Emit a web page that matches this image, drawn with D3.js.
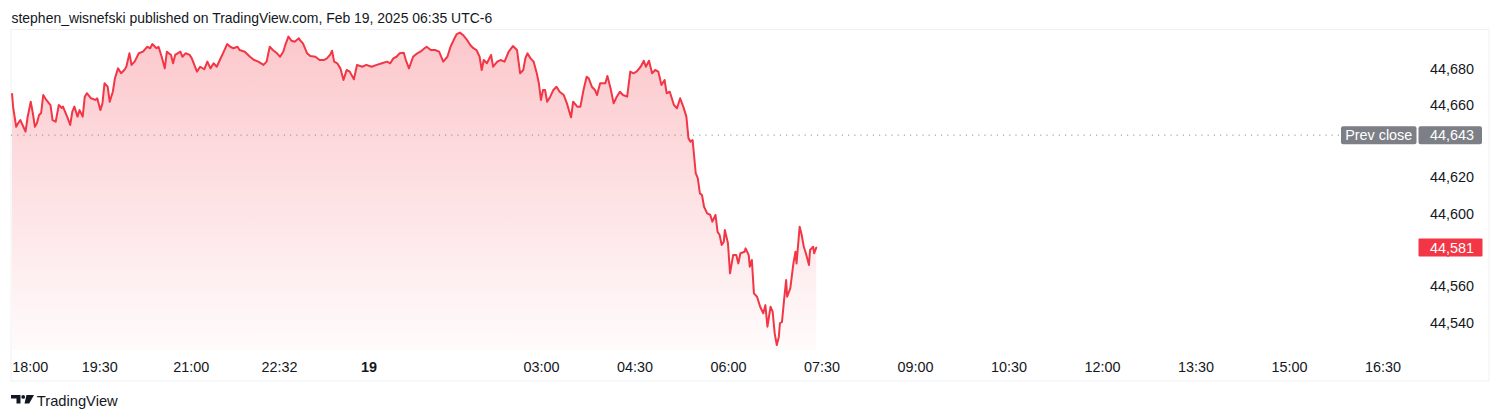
<!DOCTYPE html>
<html>
<head>
<meta charset="utf-8">
<script src="https://cdn.jsdelivr.net/npm/d3@7/dist/d3.min.js"></script>
<style>
  html, body { margin: 0; padding: 0; background: #ffffff; }
  svg { display: block; }
</style>
</head>
<body>
<svg id="chart" width="1500" height="420"></svg>
<script>
// ---------------- DATA ----------------
const headerText = "stephen_wisnefski published on TradingView.com, Feb 19, 2025 06:35 UTC-6";
// bar index (1-minute bars from session start) and price
const barIndex = [1,2,5,7,9,12,14,16,19,21,23,25,27,29,31,34,38,40,43,46,49,50,54,57,59,61,64,66,69,71,73,77,81,83,86,88,90,93,95,98,100,103,106,109,111,114,116,119,123,127,131,134,136,140,142,145,148,150,154,156,158,163,165,168,172,174,179,182,186,189,192,195,198,201,204,208,211,214,218,220,225,230,234,238,243,246,249,252,256,259,262,264,267,270,273,277,278,281,285,288,293,297,301,304,307,309,311,314,317,320,323,326,330,333,338,342,347,352,357,362,365,368,371,374,378,380,383,387,391,394,398,400,404,408,412,416,420,423,426,429,432,435,439,442,445,448,451,453,455,458,462,464,468,471,475,479,483,487,490,493,495,497,500,503,506,508,510,512,514,516,519,522,525,528,532,535,539,541,545,548,551,554,556,559,562,564,567,572,574,577,580,583,586,589,593,596,599,602,606,609,611,614,617,620,623,626,629,631,634,638,641,644,647,650,652,654,656,659,661,663,665,667,670,673,675,678,680,682,684,686,687,690,692,695,698,700,702,706,707,710,711,713,715,718,721,724,726,728,731,733,735,737,739,740,742,744,746,747,750,753,755,756,759,761,763,765,768,769,772,773,775];
const price = [44665.7,44658.7,44647.6,44649.7,44651.3,44647.5,44644.9,44653,44661.4,44655.2,44647.6,44649.7,44654.1,44655.2,44665.1,44662.4,44659.6,44651.3,44650.4,44659.6,44658,44658.7,44653.2,44648.6,44655.9,44658.7,44653.2,44656.8,44653.2,44664.2,44666.1,44663.3,44662.4,44663.3,44656.8,44660.5,44671.6,44669.7,44661.4,44666.9,44674.3,44679.8,44677.1,44678.9,44680.7,44688.1,44681.7,44683.5,44688.1,44689,44691.7,44690.9,44693.2,44690.9,44691.7,44686.2,44679.8,44689,44687.2,44682.6,44687.2,44689,44686.2,44688.1,44687.2,44685.3,44678,44680.7,44679.3,44683.5,44679.8,44682.6,44680.7,44684.4,44688.1,44693.2,44691.7,44690.9,44691.7,44689.9,44689,44686.2,44684.4,44683.5,44681.7,44683.5,44691.7,44689.9,44688.1,44686.2,44689,44692.7,44697.3,44695,44694.5,44696.4,44695.4,44693.6,44688.1,44686.6,44686.2,44684.4,44684.4,44685.3,44687.2,44689.5,44683.5,44682.6,44679.8,44673.4,44678.9,44678,44673.8,44681.7,44680.7,44681.7,44680.7,44681.7,44682.6,44683.5,44682.6,44685.3,44686.2,44688.1,44688.4,44684.4,44679.8,44686.2,44688.1,44689,44690.9,44691.7,44689.9,44689.9,44689,44683.5,44686.2,44691.7,44695.4,44698.7,44699.5,44698.2,44695.4,44692.7,44690.9,44689.9,44686.2,44678.9,44684.4,44682.6,44687.2,44680.7,44683.5,44684.4,44683.5,44689,44692.1,44689.9,44677.1,44678.9,44685.3,44688.1,44685.3,44683.5,44677.1,44671.6,44662.4,44667.9,44667.9,44661.4,44664.2,44667.9,44669.7,44666.9,44665.1,44660.5,44652.8,44661.4,44658.7,44658.7,44667.9,44675.2,44674.3,44669.7,44667.9,44665.1,44671.6,44671.6,44675.6,44668.8,44660.5,44664.2,44666.9,44665.1,44664.2,44678,44677.1,44678,44680.7,44684,44680.7,44684,44677.1,44678.9,44678,44670.6,44673.4,44666.1,44666.9,44659.6,44657.8,44663.3,44658.7,44653.2,44641.2,44639.4,44640.3,44622,44619.2,44610.9,44610,44603.5,44599.9,44599,44595.3,44599,44589.8,44587.9,44582.4,44584.2,44590.7,44583.4,44566.8,44576.9,44576.9,44572.3,44577.9,44578.7,44580.6,44576.9,44570.5,44574.2,44555.8,44553.9,44548.4,44544.8,44549.3,44537.4,44548.4,44545.7,44533.7,44527.3,44531.9,44539.3,44540.1,44552.1,44563.1,44553.9,44558.6,44572.3,44578.7,44572.3,44592.5,44587.9,44581.5,44577.9,44571.4,44579.7,44581.5,44577.9,44581];
const prevClose = 44643;
const lastPrice = 44581;
const priceTicks = [44540, 44560, 44580, 44600, 44620, 44640, 44660, 44680];
const timeTickIndex = [18, 85, 173, 258, 344, 510, 600, 690, 780, 870, 960, 1050, 1140, 1230, 1320];
const timeTickLabels = ["18:00","19:30","21:00","22:32","19","03:00","04:30","06:00","07:30","09:00","10:30","12:00","13:30","15:00","16:30"];
const boldTimeLabels = ["19"];

// ---------------- LAYOUT ----------------
const W = 1500, H = 420;
const paneLeft = 11, paneRight = 1421, paneTop = 30, paneBottom = 350;
const frame = {x0: 11, y0: 29.5, x1: 1489, y1: 381};
const FONT = "'Liberation Sans', Arial, sans-serif";
const lineColor = "#F23645";
const textColor = "#131722";

const svg = d3.select("#chart");

const x = d3.scaleLinear().domain([0, 1357]).range([paneLeft, paneRight]);
const y = d3.scaleLinear().domain([44540, 44680]).range([322, 68]);

// helper to fit font size for a sample text to a target width
function fitSize(sample, baseSize, targetWidth, weight) {
  const t = svg.append("text").attr("font-family", FONT).attr("font-size", baseSize)
    .attr("font-weight", weight || "normal").text(sample);
  const w = t.node().getComputedTextLength();
  t.remove();
  return baseSize * targetWidth / w;
}

// frame
svg.append("rect")
  .attr("x", frame.x0).attr("y", frame.y0)
  .attr("width", frame.x1 - frame.x0).attr("height", frame.y1 - frame.y0)
  .attr("fill", "none").attr("stroke", "#f0f1f5").attr("stroke-width", 1);

// header
const headerSize = fitSize(headerText, 13, 481);
svg.append("text")
  .attr("x", 11.5).attr("y", 22.5)
  .attr("font-family", FONT).attr("font-size", headerSize)
  .attr("fill", textColor).text(headerText);

// data
const data = barIndex.map((b, i) => ({b, p: price[i]}));

// gradient
const defs = svg.append("defs");
const grad = defs.append("linearGradient").attr("id", "areaGrad")
  .attr("gradientUnits", "userSpaceOnUse")
  .attr("x1", 0).attr("x2", 0).attr("y1", paneTop).attr("y2", paneBottom);
grad.append("stop").attr("offset", 0).attr("stop-color", lineColor).attr("stop-opacity", 0.28);
grad.append("stop").attr("offset", 1).attr("stop-color", lineColor).attr("stop-opacity", 0.02);

const area = d3.area().x(d => x(d.b)).y0(paneBottom).y1(d => y(d.p));
svg.append("path").datum(data).attr("d", area).attr("fill", "url(#areaGrad)");

// prev close dotted line
svg.append("line")
  .attr("x1", paneLeft).attr("x2", 1340)
  .attr("y1", y(prevClose)).attr("y2", y(prevClose))
  .attr("stroke", "#8a8e99").attr("stroke-width", 1)
  .attr("stroke-dasharray", "1.2,5");

// price line
const line = d3.line().x(d => x(d.b)).y(d => y(d.p));
svg.append("path").datum(data).attr("d", line)
  .attr("fill", "none").attr("stroke", lineColor)
  .attr("stroke-width", 2).attr("stroke-linejoin", "round").attr("stroke-linecap", "round");

// axis font size
const axisSize = fitSize("44,680", 13, 44);

// price axis
const yAxis = d3.axisRight(y).tickValues(priceTicks).tickFormat(d3.format(",")).tickSize(0);
const yG = svg.append("g").attr("transform", "translate(1474,0)").call(yAxis);
yG.select(".domain").remove();
yG.selectAll("text")
  .attr("x", 0).attr("dx", 0).attr("dy", "0.35em")
  .attr("text-anchor", "end")
  .attr("font-family", FONT).attr("font-size", axisSize).attr("fill", textColor);
// hide tick that collides with prev close label
yG.selectAll(".tick").filter(d => d === 44640).remove();

// prev close labels
const pcY = y(prevClose);
svg.append("rect").attr("x", 1341).attr("y", pcY - 9).attr("width", 75.5).attr("height", 18)
  .attr("rx", 2).attr("fill", "#7d7f86");
svg.append("text").attr("x", 1378.7).attr("y", pcY).attr("dy", "0.35em")
  .attr("text-anchor", "middle").attr("font-family", FONT).attr("font-size", axisSize)
  .attr("fill", "#ffffff").text("Prev close");
svg.append("rect").attr("x", 1418.5).attr("y", pcY - 9).attr("width", 63.5).attr("height", 18)
  .attr("rx", 2).attr("fill", "#7d7f86");
svg.append("text").attr("x", 1474).attr("y", pcY).attr("dy", "0.35em")
  .attr("text-anchor", "end").attr("font-family", FONT).attr("font-size", axisSize)
  .attr("fill", "#ffffff").text(d3.format(",")(prevClose));

// last price label
const lpY = y(lastPrice);
svg.append("rect").attr("x", 1418.5).attr("y", lpY - 9).attr("width", 64).attr("height", 18)
  .attr("rx", 1).attr("fill", lineColor);
svg.append("text").attr("x", 1474).attr("y", lpY).attr("dy", "0.35em")
  .attr("text-anchor", "end").attr("font-family", FONT).attr("font-size", axisSize)
  .attr("fill", "#ffffff").text(d3.format(",")(lastPrice));

// time axis
const xAxis = d3.axisBottom(x).tickValues(timeTickIndex)
  .tickFormat((d, i) => timeTickLabels[i]).tickSize(0);
const xG = svg.append("g").attr("transform", "translate(0,360)").call(xAxis);
xG.select(".domain").remove();
xG.selectAll("text")
  .attr("y", 0).attr("dy", "0.85em")
  .attr("font-family", FONT).attr("font-size", axisSize).attr("fill", textColor)
  .attr("font-weight", (d, i) => boldTimeLabels.includes(timeTickLabels[i]) ? "bold" : "normal");

// TradingView logo
const logo = svg.append("g").attr("fill", textColor);
logo.append("path").attr("d", "M11,395 H20.5 V403.5 H16.5 V398.6 H11 Z");
logo.append("circle").attr("cx", 23.2).attr("cy", 396.9).attr("r", 1.9);
logo.append("path").attr("d", "M26.5,395 H34 L29.2,403.5 H24.5 Z");
const tvSize = fitSize("TradingView", 14, 81);
svg.append("text").attr("x", 36.8).attr("y", 406.3)
  .attr("font-family", FONT).attr("font-size", tvSize).attr("fill", textColor).text("TradingView");
</script>
</body>
</html>
